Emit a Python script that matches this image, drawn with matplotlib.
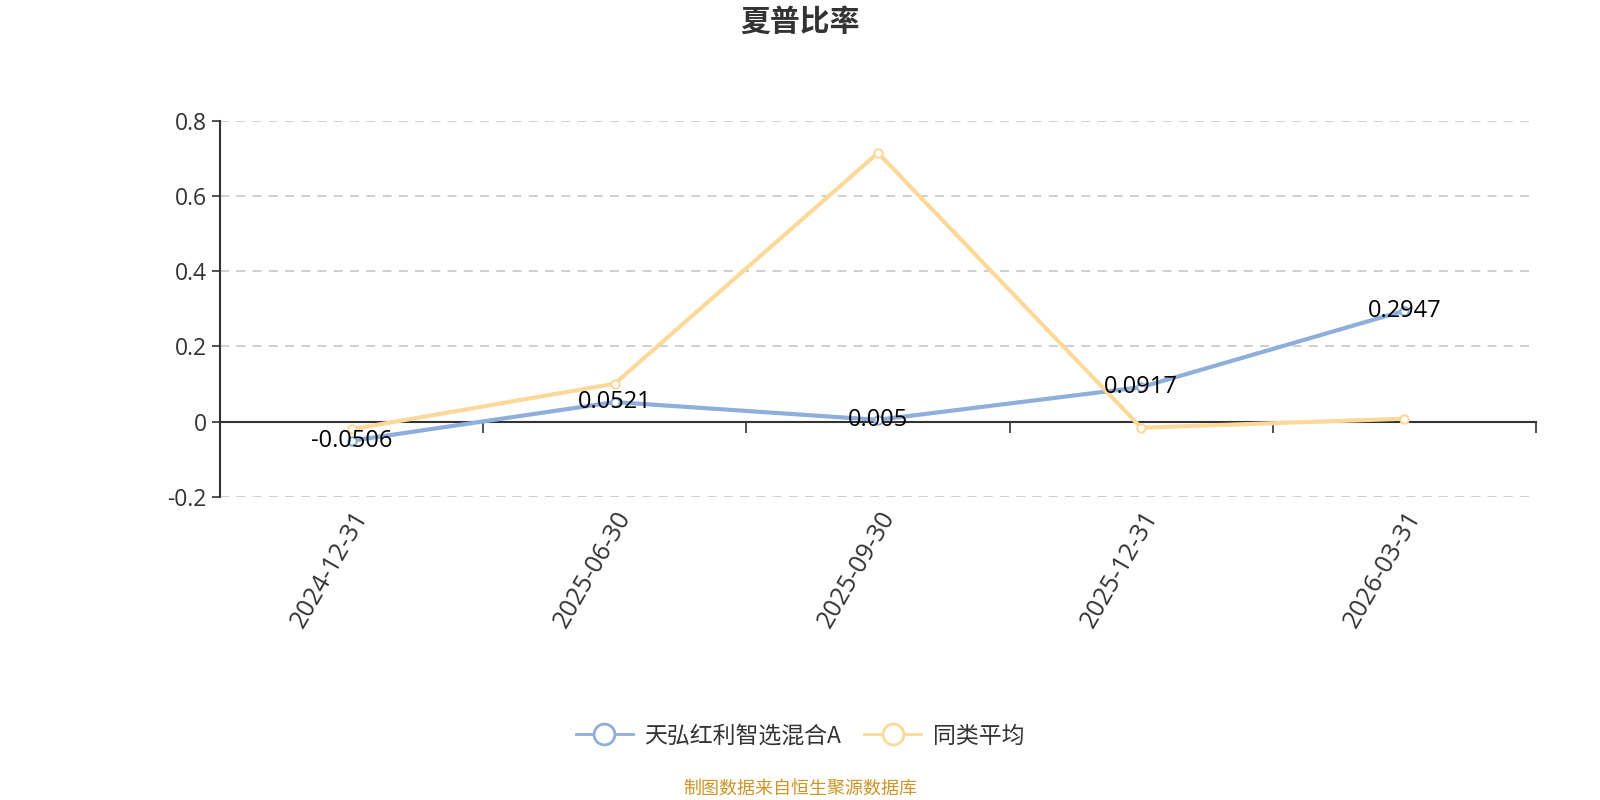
import matplotlib.pyplot as plt
from matplotlib.lines import Line2D

plt.rcParams['font.family'] = ['Noto Sans CJK SC', 'DejaVu Sans']

# data
dates = ["2024-12-31", "2025-06-30", "2025-09-30", "2025-12-31", "2026-03-31"]
fund = [-0.0506, 0.0521, 0.005, 0.0917, 0.2947]
peer = [-0.020, 0.101, 0.714, -0.016, 0.008]
fund_name = "天弘红利智选混合A"
peer_name = "同类平均"

blue = "#8eaedc"
yellow = "#fdd999"

fig = plt.figure(figsize=(16, 8), dpi=100)
ax = fig.add_axes([220 / 1600, 1 - 497 / 800, (1536 - 220) / 1600, (497 - 120.5) / 800])

x = list(range(len(dates)))
ax.plot(x, fund, color=blue, lw=3, marker="o", ms=6, mfc="white", mec=blue, mew=1.5, zorder=3)
ax.plot(x, peer, color=yellow, lw=3, marker="o", ms=6, mfc="white", mec=yellow, mew=1.5, zorder=4)

for i, v in enumerate(fund):
    ax.text(i, v, f"{v:g}", ha="center", va="center", fontsize=17, color="black",
            family="Open Sans", zorder=5)

ax.set_xlim(-0.5, len(dates) - 0.5)
ax.set_ylim(-0.2, 0.8)
ax.set_yticks([-0.2, 0, 0.2, 0.4, 0.6, 0.8])
ax.set_yticklabels(["-0.2", "0", "0.2", "0.4", "0.6", "0.8"], family="Open Sans")
ax.tick_params(axis="y", length=6, width=1.2, color="#333333", labelsize=16.5, labelcolor="#333333")

# category boundary ticks sit on the zero line
ax.set_xticks([i - 0.5 for i in range(len(dates) + 1)])
ax.set_xticklabels([])
ax.tick_params(axis="x", length=8, width=1.2, color="#333333", direction="out")
ax.spines["bottom"].set_position(("data", 0))
ax.spines["bottom"].set_color("#333333")
ax.spines["bottom"].set_linewidth(1.5)
ax.spines["bottom"].set_zorder(2)
for s in ["top", "right"]:
    ax.spines[s].set_visible(False)
ax.spines["left"].set_color("#333333")
ax.spines["left"].set_linewidth(1.5)

# date labels under the plot area
sec = ax.secondary_xaxis(0)
sec.set_xticks(x)
sec.set_xticklabels(dates, rotation=60, ha="right", rotation_mode="anchor",
                    fontsize=18, color="#333333", family="Open Sans")
sec.tick_params(length=0, pad=7)
sec.spines["bottom"].set_visible(False)

for y in [-0.2, 0.2, 0.4, 0.6, 0.8]:
    ax.axhline(y, color="#cccccc", lw=1.3, ls=(0, (5, 4)), zorder=1)

fig.text(0.5, 1 - 22 / 800, "夏普比率", ha="center", va="center", fontsize=21.5,
         fontweight="bold", color="#333333")

handles = [
    Line2D([], [], color=blue, lw=2, marker="o", ms=15, mfc="white", mec=blue, mew=2),
    Line2D([], [], color=yellow, lw=2, marker="o", ms=15, mfc="white", mec=yellow, mew=2),
]
fig.legend(handles, [fund_name, peer_name], loc="center", bbox_to_anchor=(0.5, 1 - 736 / 800),
           ncol=2, frameon=False, fontsize=16.5, handlelength=2.5, columnspacing=1.0,
           handletextpad=0.5, labelcolor="#333333")

fig.text(0.5, 1 - 789 / 800, "制图数据来自恒生聚源数据库", ha="center", va="center",
         fontsize=13, color="#cc9526")

fig.savefig("out.png")
